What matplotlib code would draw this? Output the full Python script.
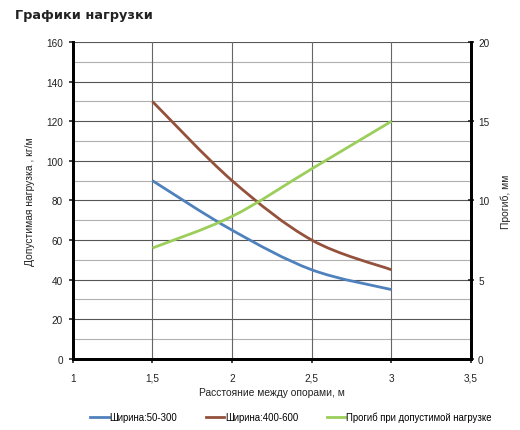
import numpy as np
import matplotlib.pyplot as plt
from matplotlib.path import Path
from matplotlib.patches import PathPatch
from matplotlib.lines import Line2D

plt.rcParams['font.family'] = ['Liberation Sans', 'DejaVu Sans']

span = [1.5, 2, 2.5, 3]
load_narrow = [90, 65, 45, 35]
load_wide = [130, 90, 60, 45]
deflection = [7, 9, 12, 15]
x_ticks = [1, 1.5, 2, 2.5, 3, 3.5]
x_labels = ['1', '1,5', '2', '2,5', '3', '3,5']
names = ['Ширина:50-300', 'Ширина:400-600', 'Прогиб при допустимой нагрузке']
colors = ['#4f81bd', '#94513c', '#9bce5a']


def smooth(ax, xs, ys, color):
    # Excel-style smoothed line: cubic bezier with catmull-rom control points
    pts = np.column_stack([xs, ys]).astype(float)
    verts = [pts[0]]
    codes = [Path.MOVETO]
    n = len(pts)
    for i in range(n - 1):
        p0 = pts[i - 1] if i > 0 else pts[i]
        p1, p2 = pts[i], pts[i + 1]
        p3 = pts[i + 2] if i + 2 < n else pts[i + 1]
        c1 = p1 + (p2 - p0) / 6
        c2 = p2 - (p3 - p1) / 6
        verts += [c1, c2, p2]
        codes += [Path.CURVE4] * 3
    ax.add_patch(PathPatch(Path(verts, codes), fill=False, edgecolor=color,
                           lw=2, transform=ax.transData, zorder=5, capstyle='butt'))


fig = plt.figure(figsize=(5.2, 4.31), dpi=100)
ax = fig.add_axes([0.140, 0.165, 0.766, 0.735])
ax2 = ax.twinx()

ax.set_xlim(1, 3.5)
ax.set_ylim(0, 160)
ax2.set_ylim(0, 20)

for y in range(10, 161, 10):
    ax.axhline(y, color='#555555' if y % 20 == 0 else '#b0b0b0', lw=0.8, zorder=1)
for x in [1.5, 2, 2.5, 3]:
    ax.axvline(x, color='#666666', lw=0.8, zorder=1)

smooth(ax, span, load_narrow, colors[0])
smooth(ax, span, load_wide, colors[1])
smooth(ax2, span, deflection, colors[2])

ax.set_xticks(x_ticks)
ax.set_xticklabels(x_labels)
ax.set_yticks(range(0, 161, 20))
ax2.set_yticks(range(0, 21, 5))

for a in (ax, ax2):
    a.tick_params(labelsize=7.2, colors='#222222', length=3, width=1.2)
    a.spines['top'].set_visible(False)
    for s in ['left', 'right', 'bottom']:
        a.spines[s].set_linewidth(2)
ax.tick_params(axis='y', direction='out', pad=4)
ax.tick_params(axis='x', direction='out', pad=7)
ax2.tick_params(axis='y', direction='inout', length=4, pad=3)

ax.set_xlabel('Расстояние между опорами, м', fontsize=7.4, color='#222222', labelpad=3)
ax.set_ylabel('Допустимая нагрузка , кг/м', fontsize=7.4, color='#222222', labelpad=8)
ax2.set_ylabel('Прогиб, мм', fontsize=7.4, color='#222222', labelpad=8)

fig.text(0.028, 0.965, 'Графики нагрузки', fontsize=9.3, fontweight='bold',
         family='DejaVu Sans', color='#222222', va='center')

handles = [Line2D([], [], color=c, lw=2) for c in colors]
fig.legend(handles, names, loc='center', bbox_to_anchor=(0.56, 0.03), ncol=3,
           frameon=False, fontsize=6.9, handlelength=1.9, handletextpad=0.1,
           columnspacing=3.0)

fig.savefig('out.png', dpi=100)
